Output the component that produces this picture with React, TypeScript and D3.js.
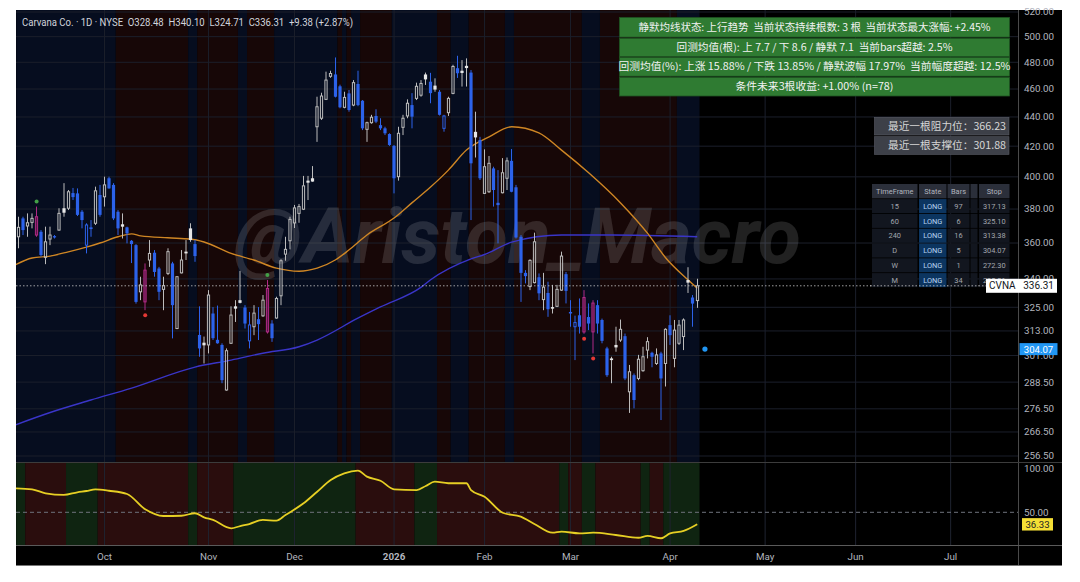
import React from "react";
import * as d3 from "d3";

// ---------------- DATA ----------------
const headerTitle = "Carvana Co. · 1D · NYSE";
const headerValues = "O328.48  H340.10  L324.71  C336.31  +9.38 (+2.87%)";

// daily OHLC, Sep 4 2025 -> Apr 10 2026 (trading days)
const ohlc: number[][] = [
  [363.6, 375.4, 357.0, 369.1], [374.4, 375.4, 364.6, 367.5], [369.9, 377.4, 363.6, 371.8], [372.0, 377.4, 368.5, 374.4],
  [364.6, 381.5, 363.6, 375.4], [366.5, 367.5, 352.3, 353.2], [351.9, 369.5, 348.1, 360.7], [362.3, 369.5, 358.8, 364.6],
  [364.0, 364.6, 362.6, 363.2], [367.5, 380.5, 367.1, 377.4], [380.5, 396.0, 375.4, 377.8], [380.5, 391.7, 379.4, 390.6],
  [389.8, 393.0, 385.5, 387.3], [389.6, 392.7, 375.8, 376.5], [378.4, 379.4, 368.5, 373.4], [358.8, 371.5, 354.1, 370.5],
  [369.1, 373.4, 363.6, 368.1], [371.5, 393.8, 370.5, 391.2], [388.6, 394.9, 375.4, 376.5], [387.5, 400.1, 381.5, 394.9],
  [399.1, 400.1, 392.5, 392.7], [394.9, 396.0, 373.4, 374.4], [378.4, 379.4, 364.6, 368.5], [370.9, 377.4, 362.6, 369.5],
  [369.1, 369.5, 359.8, 365.6], [361.3, 361.7, 348.7, 359.4], [358.8, 359.4, 326.9, 327.8], [333.1, 341.2, 328.7, 336.8],
  [327.8, 348.5, 323.5, 344.8], [350.4, 361.7, 346.6, 354.1], [354.5, 356.0, 341.2, 343.8], [345.7, 346.6, 328.7, 333.1],
  [334.4, 341.2, 323.5, 336.4], [343.0, 357.0, 342.1, 355.1], [348.5, 349.4, 309.3, 326.1], [314.2, 341.5, 313.9, 341.2],
  [343.3, 356.0, 343.0, 350.4], [355.1, 361.7, 350.4, 354.1], [368.5, 371.5, 360.7, 361.7], [359.4, 361.7, 349.4, 352.6],
  [311.0, 325.5, 300.4, 304.4], [307.2, 310.2, 297.2, 305.9], [306.1, 334.0, 302.0, 331.4], [321.8, 325.1, 308.5, 309.4],
  [308.6, 325.9, 306.7, 306.9], [306.1, 306.9, 288.0, 289.4], [284.9, 304.4, 284.6, 303.3], [306.9, 325.5, 306.6, 321.0],
  [325.5, 328.7, 317.5, 324.3], [328.7, 344.4, 327.0, 327.3], [324.9, 326.1, 314.2, 316.7], [308.1, 322.6, 304.4, 316.0],
  [315.1, 326.1, 310.9, 322.0], [318.9, 325.1, 308.5, 316.4], [320.6, 331.4, 320.1, 328.7], [312.5, 339.4, 311.7, 334.9],
  [316.7, 318.4, 307.6, 309.4], [319.5, 330.5, 319.2, 329.6], [331.0, 350.8, 326.1, 350.0], [353.7, 363.6, 350.0, 356.4],
  [361.3, 375.4, 356.4, 373.8], [371.7, 382.5, 368.7, 380.7], [377.4, 383.1, 371.8, 381.5], [379.9, 400.6, 379.4, 394.3],
  [397.6, 400.6, 385.5, 396.3], [399.1, 406.9, 396.9, 397.0], [433.2, 454.4, 422.9, 447.2], [439.1, 457.3, 437.9, 454.9],
  [452.5, 472.9, 452.0, 466.6], [469.4, 473.6, 468.3, 471.5], [470.8, 483.7, 453.9, 454.4], [462.0, 463.2, 446.1, 446.8],
  [446.8, 458.0, 446.1, 453.9], [456.8, 459.3, 443.7, 444.9], [448.4, 466.6, 447.6, 464.7], [463.7, 473.6, 447.6, 448.4],
  [451.5, 452.0, 430.9, 432.1], [431.4, 436.7, 422.9, 436.0], [436.0, 441.5, 435.3, 439.8], [440.7, 445.4, 435.7, 436.7],
  [434.3, 439.1, 430.9, 432.1], [432.1, 433.2, 427.5, 428.7], [428.2, 428.7, 420.2, 420.8], [420.2, 420.8, 389.6, 399.1],
  [400.1, 433.2, 397.6, 428.7], [432.8, 441.5, 427.5, 439.1], [440.7, 452.5, 439.1, 449.7], [448.4, 457.0, 432.1, 440.2],
  [453.2, 464.7, 452.0, 462.0], [455.5, 466.6, 454.4, 464.1], [470.8, 472.2, 463.0, 467.1], [465.4, 472.0, 449.7, 457.0],
  [462.5, 467.9, 458.0, 459.6], [458.0, 459.3, 441.0, 441.5], [432.1, 441.5, 429.8, 440.7], [443.0, 454.4, 440.7, 453.2],
  [456.8, 478.1, 456.2, 476.8], [475.5, 485.0, 468.2, 471.7], [473.6, 481.7, 461.8, 471.9], [477.3, 483.0, 461.8, 475.6],
  [472.2, 474.1, 373.4, 408.7], [429.7, 443.7, 412.5, 425.9], [424.1, 426.3, 398.0, 399.1], [389.6, 417.9, 389.2, 406.5],
  [390.6, 413.5, 389.9, 408.7], [405.4, 406.5, 381.5, 391.7], [383.8, 404.3, 359.8, 382.4], [390.0, 412.1, 389.6, 402.6],
  [399.1, 412.5, 391.7, 410.3], [410.3, 418.1, 390.3, 390.6], [393.4, 394.9, 362.6, 363.2], [363.6, 364.6, 327.8, 343.3],
  [343.3, 344.8, 337.6, 341.5], [335.9, 350.8, 334.0, 350.2], [338.0, 366.0, 337.6, 360.7], [340.9, 343.0, 328.7, 332.3],
  [329.0, 343.3, 323.5, 335.6], [332.5, 338.5, 320.1, 324.0], [325.1, 336.8, 321.8, 324.3], [325.5, 336.8, 325.1, 334.4],
  [334.0, 355.1, 333.6, 352.6], [342.6, 343.8, 327.0, 333.6], [322.6, 328.7, 315.1, 321.8], [315.1, 320.7, 298.8, 317.2],
  [320.9, 329.6, 311.7, 315.1], [312.5, 334.0, 311.6, 330.1], [320.0, 327.0, 313.4, 316.7], [312.5, 328.7, 302.0, 327.2],
  [326.1, 328.7, 311.7, 316.7], [318.5, 319.2, 306.9, 308.1], [304.4, 305.2, 290.9, 291.7], [299.6, 300.4, 288.0, 298.8],
  [306.1, 315.1, 302.8, 304.9], [308.5, 318.7, 307.6, 313.8], [310.4, 311.7, 289.4, 290.2], [284.1, 296.5, 274.7, 293.3],
  [291.7, 292.5, 276.7, 280.4], [290.2, 301.3, 289.4, 299.2], [293.8, 305.2, 293.3, 300.4], [303.6, 309.9, 299.6, 307.7],
  [302.3, 302.8, 295.4, 300.4], [297.2, 304.4, 296.5, 301.3], [302.0, 302.8, 271.6, 290.2], [297.2, 314.3, 286.5, 313.8],
  [315.9, 320.9, 306.1, 310.9], [299.6, 318.5, 295.4, 313.4], [306.9, 318.5, 306.1, 315.9], [310.2, 319.3, 303.6, 318.5],
  [339.4, 346.4, 332.5, 338.0], [330.1, 331.4, 315.1, 326.93], [328.48, 340.10, 324.71, 336.31],
];
const closeBeforeFirst = 365.0;

const magentaBars = [4, 28, 55, 125, 127];
const greenDotBars = [4, 55];
const redDotBars = [28, 125, 127];

// background regime runs [bar count, state]
const trendRuns: [number, string][] = [
  [22, "b"], [16, "r"], [2, "b"], [9, "r"], [2, "b"], [6, "r"], [14, "b"], [1, "r"], [1, "b"], [1, "r"], [2, "b"],
  [7, "r"], [10, "b"], [3, "r"], [4, "b"], [8, "r"], [2, "b"], [15, "r"], [4, "b"], [17, "r"], [5, "b"],
];
const oscRuns: [number, string][] = [
  [2, "g"], [9, "r"], [7, "g"], [20, "r"], [2, "g"], [8, "r"], [27, "g"], [13, "r"], [5, "g"], [27, "r"], [2, "g"],
  [3, "r"], [3, "g"], [10, "r"], [2, "g"], [3, "r"], [8, "g"],
];

// moving averages read at bar index: [index, price]
const maOrange: [number, number][] = [
  [-1, 347.3], [3, 351.5], [7, 352.6], [11, 355.0], [15, 357.7], [18, 360.0], [22, 363.6], [25, 365.3], [27, 364.1],
  [33, 363.0], [38, 362.3], [41, 360.6], [47, 354.1], [52, 350.4], [57, 345.9], [62, 344.2], [66, 345.9], [70, 350.4],
  [73, 356.0], [77, 364.6], [83, 374.6], [87, 383.9], [91, 393.4], [95, 404.3], [99, 417.4], [104, 426.3], [109, 433.2],
  [115, 429.0], [120, 417.4], [126, 402.6], [133, 383.9], [139, 365.7], [143, 351.7], [148, 339.4], [150, 335.0],
];
const maPurple: [number, number][] = [
  [-1, 269.3], [7, 274.9], [16, 280.4], [25, 285.8], [39, 295.5], [47, 298.8], [54, 302.1], [62, 305.2], [66, 308.5],
  [75, 319.4], [80, 325.2], [89, 335.6], [91, 339.4], [100, 351.0], [103, 353.5], [109, 360.5], [120, 364.6],
  [131, 364.6], [150, 363.6],
];
// oscillator read at bar index: [index, value]
const oscillator: [number, number][] = [
  [-1, 77.3], [3, 76.1], [6, 71.6], [10, 69.7], [13, 72.7], [15, 74.2], [17, 76.1], [20, 74.5], [24, 70.8], [28, 53.4],
  [32, 45.8], [36, 46.1], [39, 48.9], [41, 44.3], [43, 41.3], [47, 31.8], [49, 34.4], [51, 36.7], [54, 41.3], [57, 40.5],
  [59, 46.9], [63, 60.2], [66, 73.4], [69, 86.7], [72, 94.3], [75, 97.3], [77, 90.5], [80, 85.9], [83, 76.1], [88, 75.3],
  [90, 79.9], [92, 84.8], [95, 83.0], [99, 83.0], [100, 75.3], [103, 67.7], [107, 49.5], [111, 45.0], [114, 36.7],
  [118, 26.8], [120, 28.0], [124, 26.1], [127, 26.8], [132, 24.2], [137, 21.1], [139, 23.1], [142, 20.5], [144, 26.1],
  [147, 28.8], [150, 36.33],
];

const priceTicks = [520, 500, 480, 460, 440, 420, 400, 380, 360, 340, 325, 313, 301, 288.5, 276.5, 266.5, 256.5];
const oscTicks = [100, 50];
const monthLabels = ["Oct", "Nov", "Dec", "2026", "Feb", "Mar", "Apr", "May", "Jun", "Jul"];
const monthBarIndex = [19, 42, 61, 83, 103, 122, 144, 165, 185, 206];

const infoRows = [
  "静默均线状态: 上行趋势  当前状态持续根数: 3 根  当前状态最大涨幅: +2.45%",
  "回测均值(根): 上 7.7 / 下 8.6 / 静默 7.1  当前bars超越: 2.5%",
  "回测均值(%): 上涨 15.88% / 下跌 13.85% / 静默波幅 17.97%  当前幅度超越: 12.5%",
  "条件未来3根收益: +1.00% (n=78)",
];
const infoWidths = [352, 276, 392, 158];
const levelRows = ["最近一根阻力位：366.23", "最近一根支撑位：301.88"];
const tfHeader = ["TimeFrame", "State", "Bars", "", "Stop"];
const tfNames = ["15", "60", "240", "D", "W", "M"];
const tfStates = ["LONG", "LONG", "LONG", "LONG", "LONG", "LONG"];
const tfBars = ["97", "6", "16", "5", "1", "34"];
const tfStops = ["317.13", "325.10", "313.38", "304.07", "272.30", "285.01"];

const ticker = "CVNA";
const lastPrice = 336.31;
const stopPrice = 304.07;
const oscLast = 36.33;
const watermark = "@Ariston_Macro";

// ---------------- LAYOUT ----------------
const W = 1080, H = 582;
const L = 16, R = 1062, T = 10, B = 566;
const PR = 1018; // plot right
const MAIN_B = 462, SUB_B = 545;

const FONT = "Roboto, 'Noto Sans', 'Noto Sans CJK SC', sans-serif";
const CJK = "'Noto Sans CJK SC', 'Noto Sans', sans-serif";
const AX = "#b2b5be";
const BLUE = "#2c62ea";
const GRAY = "#bcbcbc";
const WHITEF = "#e6e6e6";
const MAG_S = "#b02a86";
const MAG_F = "#5a1645";

export default function App() {
  const x = d3.scaleLinear().domain([0, 150]).range([18.5, 697.25]);
  const y = d3.scaleLog().domain([256.5, 520]).range([456, 12]);
  const oy = d3.scaleLinear().domain([50, 100]).range([512.3, 468.3]);
  const step = x(1) - x(0);
  const bw = 3.2;

  const toSpans = (runs: [number, string][]) => {
    let start = 0;
    return runs.map(([n, s]) => {
      const span = { x0: x(start) - step / 2, x1: x(start + n - 1) + step / 2, s };
      start += n;
      return span;
    });
  };
  const trendSpans = toSpans(trendRuns);
  const oscSpans = toSpans(oscRuns);

  const lineP = d3.line<[number, number]>().x((d) => x(d[0])).y((d) => y(d[1])).curve(d3.curveMonotoneX);
  const lineO = d3.line<[number, number]>().x((d) => x(d[0])).y((d) => oy(d[1])).curve(d3.curveMonotoneX);

  const candles = ohlc.map((d, i) => {
    const [o, h, l, c] = d;
    const prev = i > 0 ? ohlc[i - 1][3] : closeBeforeFirst;
    const cx = Math.round(x(i) * 2) / 2;
    const mag = magentaBars.includes(i);
    const down = c < prev;
    const hollow = c >= o;
    const col = mag ? MAG_S : down ? BLUE : GRAY;
    const yt = y(Math.max(o, c));
    const yb = y(Math.min(o, c));
    const bh = Math.max(1.2, yb - yt);
    if (mag) {
      return (
        <g key={i}>
          <line x1={cx} x2={cx} y1={y(h)} y2={y(l)} stroke={MAG_S} strokeWidth={1} />
          <rect x={cx - bw / 2 + 0.5} y={yt} width={bw - 1} height={bh} fill={MAG_F} stroke={MAG_S} strokeWidth={1} />
        </g>
      );
    }
    if (hollow && bh > 2) {
      return (
        <g key={i}>
          <line x1={cx} x2={cx} y1={y(h)} y2={yt} stroke={col} strokeWidth={1} />
          <line x1={cx} x2={cx} y1={yb} y2={y(l)} stroke={col} strokeWidth={1} />
          <rect x={cx - bw / 2 + 0.5} y={yt} width={bw - 1} height={bh} fill="none" stroke={col} strokeWidth={1} />
        </g>
      );
    }
    const fill = down ? BLUE : WHITEF;
    return (
      <g key={i}>
        <line x1={cx} x2={cx} y1={y(h)} y2={y(l)} stroke={down ? BLUE : GRAY} strokeWidth={1} />
        <rect x={cx - bw / 2} y={yt} width={bw} height={bh} fill={fill} />
      </g>
    );
  });

  // table geometry
  const colX = [872, 919, 947.5, 970.5, 979];
  const colW = [45.5, 27.5, 22, 7, 30.5];
  const headY = 184, headH = 14.3, rowH = 14.8;

  const yLast = y(lastPrice);

  return (
    <svg width={W} height={H} style={{ position: "absolute", left: 0, top: 0, background: "#fff" }} fontFamily={FONT}>
      <defs>
        <clipPath id="mainClip"><rect x={L} y={T} width={PR - L} height={MAIN_B - T} /></clipPath>
        <clipPath id="subClip"><rect x={L} y={MAIN_B} width={PR - L} height={SUB_B - MAIN_B} /></clipPath>
      </defs>
      <rect x={L} y={T} width={R - L} height={B - T} fill="#000" />

      {/* main panel background bands */}
      <g clipPath="url(#mainClip)">
        {trendSpans.map((s, i) => (
          <rect key={i} x={s.x0} y={T} width={s.x1 - s.x0} height={MAIN_B - T} fill={s.s === "b" ? "#060d1f" : "#170707"} />
        ))}
        {priceTicks.map((p) => (
          <line key={p} x1={L} x2={PR} y1={y(p)} y2={y(p)} stroke="#1b1f2b" strokeWidth={1} />
        ))}
        {monthBarIndex.map((m) => (
          <line key={m} x1={x(m)} x2={x(m)} y1={T} y2={MAIN_B} stroke="#1b1f2b" strokeWidth={1} />
        ))}
        <text x={234} y={263} fontSize={78} fontWeight="bold" fontStyle="italic" fill="#ffffff" fillOpacity={0.13}
          textLength={567} lengthAdjust="spacingAndGlyphs" fontFamily="Roboto, 'Noto Sans', sans-serif">{watermark}</text>
        <path d={lineP(maPurple) || ""} fill="none" stroke="#3a35c8" strokeWidth={1.4} />
        <path d={lineP(maOrange) || ""} fill="none" stroke="#cf8624" strokeWidth={1.4} />
        {candles}
        {greenDotBars.map((i) => (
          <circle key={"g" + i} cx={x(i)} cy={y(ohlc[i][1]) - 5} r={2} fill="#43a047" />
        ))}
        {redDotBars.map((i) => (
          <circle key={"r" + i} cx={x(i)} cy={y(ohlc[i][2]) + 5} r={2} fill="#e53935" />
        ))}
        <circle cx={x(ohlc.length + 0.7)} cy={y(stopPrice)} r={2.6} fill="#2196f3" />
        <line x1={L} x2={PR} y1={yLast} y2={yLast} stroke="#c8c8c8" strokeWidth={0.8} strokeDasharray="1.5,2" />
      </g>

      {/* sub panel */}
      <g clipPath="url(#subClip)">
        {oscSpans.map((s, i) => (
          <rect key={i} x={s.x0} y={MAIN_B} width={s.x1 - s.x0} height={SUB_B - MAIN_B} fill={s.s === "g" ? "#0f2411" : "#2a0d0d"} />
        ))}
        {monthBarIndex.map((m) => (
          <line key={m} x1={x(m)} x2={x(m)} y1={MAIN_B} y2={SUB_B} stroke="#1f2330" strokeWidth={1} />
        ))}
        <line x1={L} x2={PR} y1={oy(50)} y2={oy(50)} stroke="#6f727c" strokeWidth={1} strokeDasharray="4,3" />
        <path d={lineO(oscillator) || ""} fill="none" stroke="#e6cf24" strokeWidth={1.8} />
      </g>

      {/* frame lines */}
      <line x1={PR + 0.5} x2={PR + 0.5} y1={T} y2={B} stroke="#4a4a4a" strokeWidth={1} />
      <line x1={L} x2={R} y1={MAIN_B + 0.5} y2={MAIN_B + 0.5} stroke="#3c3c3c" strokeWidth={1} />
      <line x1={L} x2={R} y1={SUB_B + 0.5} y2={SUB_B + 0.5} stroke="#5a5a5a" strokeWidth={1} />
      <line x1={L} x2={R} y1={B - 0.5} y2={B - 0.5} stroke="#777" strokeWidth={1} />

      {/* header */}
      <text x={22} y={26} fontSize={10.4} fill="#d1d4dc" style={{ whiteSpace: "pre" }}
        textLength={331} lengthAdjust="spacingAndGlyphs">
        {headerTitle + "  " + headerValues}
      </text>

      {/* price axis */}
      {priceTicks.map((p) => (
        <text key={p} x={1024} y={y(p)} dy="0.35em" fontSize={9.8} fill={AX}>{p.toFixed(2)}</text>
      ))}
      {oscTicks.map((v) => (
        <text key={v} x={1024} y={oy(v)} dy="0.35em" fontSize={9.8} fill={AX}>{v.toFixed(2)}</text>
      ))}

      {/* time axis */}
      {monthLabels.map((m, k) => (
        <text key={m} x={x(monthBarIndex[k])} y={560} textAnchor="middle" fontSize={9.8} fill={AX}
          fontWeight={m === "2026" ? "bold" : "normal"}>{m}</text>
      ))}

      {/* info box */}
      {infoRows.map((t, k) => {
        const ry = [17.5, 38.3, 57.4, 77.3][k];
        const rh = [19.6, 18.3, 18.8, 18.7][k];
        return (
          <g key={k}>
            <rect x={619.5} y={ry} width={390} height={rh} fill="#2f7b32" stroke="#1f5422" strokeWidth={0.8} />
            <text x={814.5} y={ry + rh / 2} dy="0.36em" textAnchor="middle" fontSize={10} fill="#f2f2f2"
              fontFamily={CJK} textLength={infoWidths[k]} lengthAdjust="spacingAndGlyphs" style={{ whiteSpace: "pre" }}>{t}</text>
          </g>
        );
      })}

      {/* levels */}
      {levelRows.map((t, k) => {
        const ry = 117.3 + k * 19.4;
        return (
          <g key={k}>
            <rect x={874.5} y={ry} width={134.5} height={17.7} fill="#3d4048" stroke="#5a5d66" strokeWidth={0.6} />
            <text x={1006} y={ry + 8.85} dy="0.36em" textAnchor="end" fontSize={10.5} fill="#d6d6d6"
              fontFamily={CJK} textLength={118} lengthAdjust="spacingAndGlyphs">{t}</text>
          </g>
        );
      })}

      {/* timeframe table */}
      {tfHeader.map((h, c) => (
        <g key={"h" + c}>
          <rect x={colX[c]} y={headY} width={colW[c]} height={headH} fill="#2b2f3a" />
          <text x={colX[c] + colW[c] / 2} y={headY + headH / 2} dy="0.36em" textAnchor="middle" fontSize={7.4} fill={AX}>{h}</text>
        </g>
      ))}
      {tfNames.map((n, r) => {
        const ry = headY + headH + 0.8 + r * rowH;
        const cells = [n, tfStates[r], tfBars[r], "", tfStops[r]];
        return (
          <g key={"r" + r}>
            {cells.map((v, c) => (
              <g key={c}>
                <rect x={colX[c]} y={ry} width={colW[c]} height={rowH - 0.8} fill={c === 1 ? "#0c3560" : "#12161f"} />
                <text x={colX[c] + colW[c] / 2} y={ry + (rowH - 0.8) / 2} dy="0.36em" textAnchor="middle" fontSize={7.4}
                  fill={c === 1 ? "#b8d3f2" : "#a3a6ae"}>{v}</text>
              </g>
            ))}
          </g>
        );
      })}
      <line x1={870} x2={986} y1={yLast} y2={yLast} stroke="#c8c8c8" strokeWidth={0.8} strokeDasharray="1.5,2" />

      {/* last price label */}
      <rect x={986} y={yLast - 7} width={71} height={14} fill="#ffffff" />
      <text x={989} y={yLast} dy="0.36em" fontSize={10} fill="#131722">{ticker}</text>
      <text x={1054} y={yLast} dy="0.36em" fontSize={10} fill="#131722" textAnchor="end">{lastPrice.toFixed(2)}</text>

      {/* stop label */}
      <rect x={1019.5} y={y(stopPrice) - 6} width={38} height={12} fill="#2196f3" />
      <text x={1038.5} y={y(stopPrice)} dy="0.36em" fontSize={9.6} fill="#ffffff" textAnchor="middle">{stopPrice.toFixed(2)}</text>

      {/* oscillator label */}
      <rect x={1022} y={oy(oscLast) - 6.2} width={31} height={12.4} fill="#f5df35" />
      <text x={1037.5} y={oy(oscLast)} dy="0.36em" fontSize={9.6} fill="#222" textAnchor="middle">{oscLast.toFixed(2)}</text>
    </svg>
  );
}
